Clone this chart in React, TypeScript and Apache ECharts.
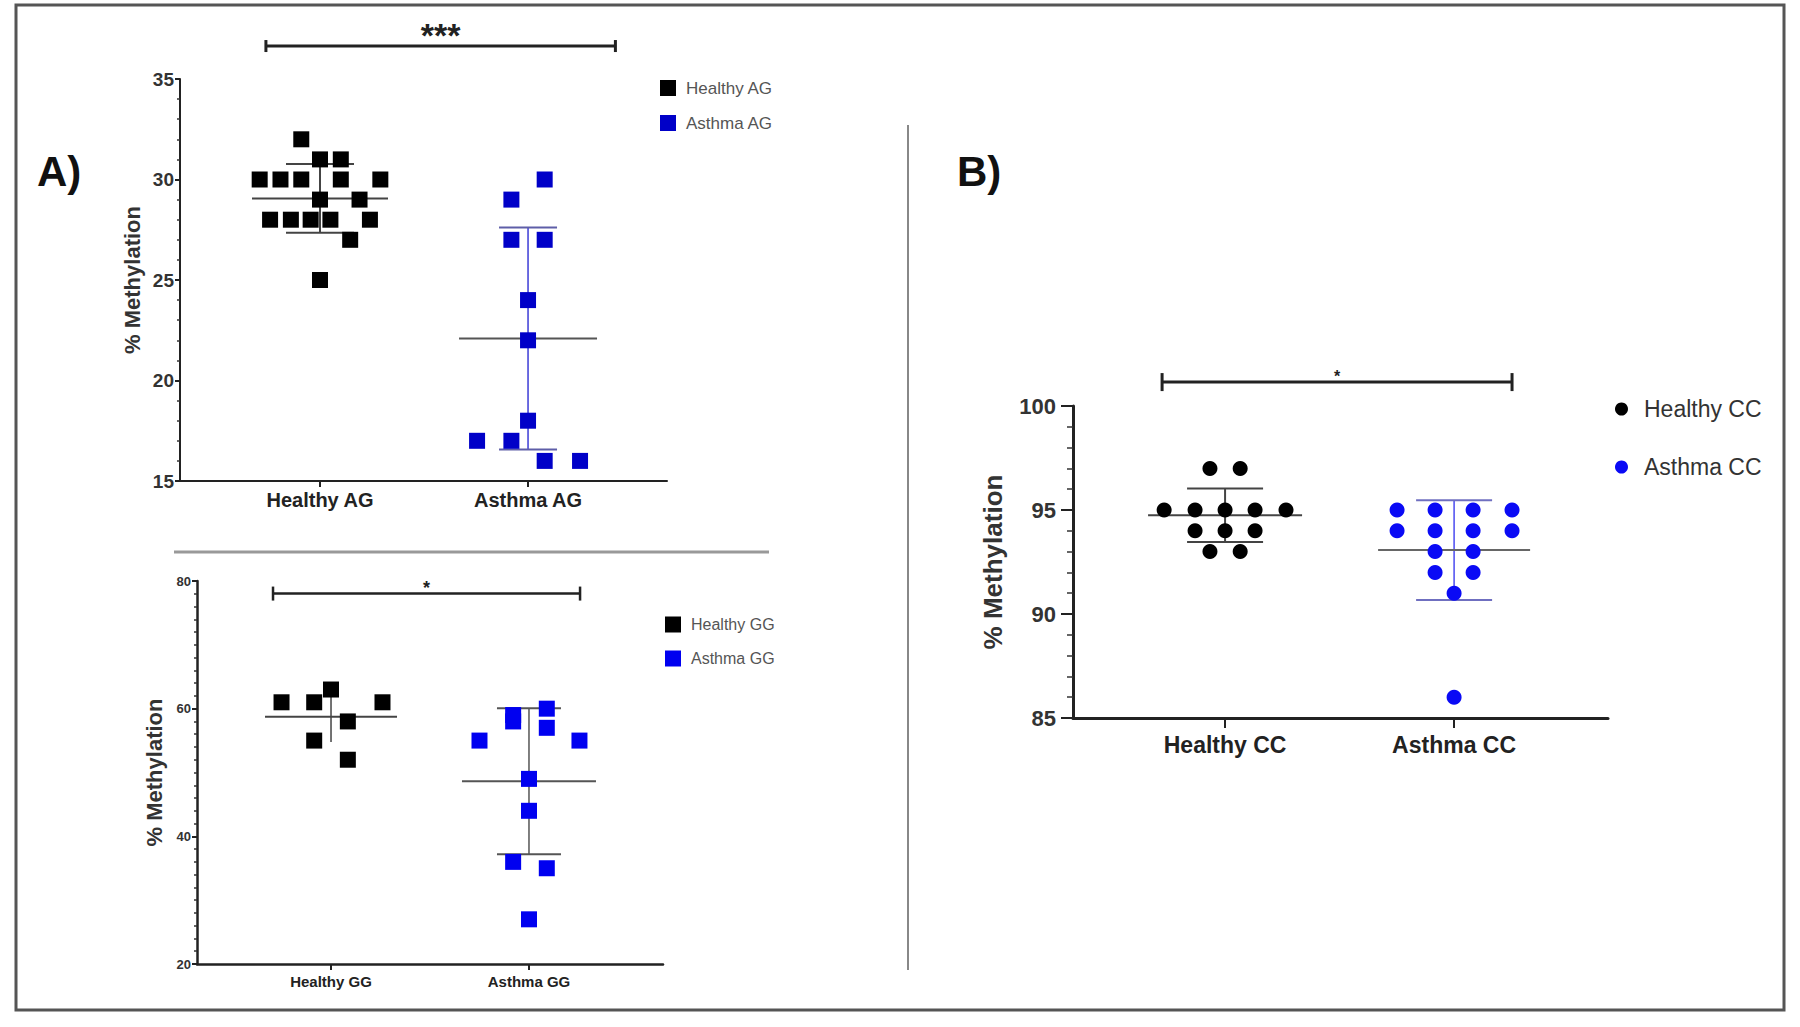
import React, { useEffect, useRef } from 'react';
import * as echarts from 'echarts';

const FONT = '"Liberation Sans", Arial, Helvetica, sans-serif';

// ---------- Panel A (top): AG genotype ----------
const agCategories = ['Healthy AG', 'Asthma AG'];
const agHealthy = [32, 31, 31, 30, 30, 30, 30, 30, 29, 29, 28, 28, 28, 28, 28, 27, 25];
const agHealthyJitter = [-0.09, 0, 0.1, -0.29, -0.19, -0.09, 0.1, 0.29, 0, 0.19, -0.24, -0.14, -0.045, 0.05, 0.24, 0.145, 0];
const agAsthma = [30, 29, 27, 27, 24, 22, 18, 17, 17, 16, 16];
const agAsthmaJitter = [0.08, -0.08, -0.08, 0.08, 0, 0, 0, -0.245, -0.08, 0.08, 0.25];
const agYTicks = [15, 20, 25, 30, 35];

// ---------- Panel A (bottom): GG genotype ----------
const ggCategories = ['Healthy GG', 'Asthma GG'];
const ggHealthy = [63, 61, 61, 61, 58, 55, 52];
const ggHealthyJitter = [0, -0.25, -0.085, 0.26, 0.085, -0.085, 0.085];
const ggAsthma = [60, 59, 58, 57, 55, 55, 49, 44, 36, 35, 27];
const ggAsthmaJitter = [0.09, -0.08, -0.08, 0.09, -0.25, 0.255, 0, 0, -0.08, 0.09, 0];
const ggYTicks = [20, 40, 60, 80];

// ---------- Panel B: CC genotype ----------
const ccCategories = ['Healthy CC', 'Asthma CC'];
const ccHealthy = [97, 97, 95, 95, 95, 95, 95, 94, 94, 94, 93, 93];
const ccHealthyJitter = [-0.066, 0.066, -0.266, -0.131, 0, 0.131, 0.266, -0.131, 0, 0.131, -0.066, 0.066];
const ccAsthma = [95, 95, 95, 95, 94, 94, 94, 94, 93, 93, 92, 92, 91, 86];
const ccAsthmaJitter = [-0.249, -0.083, 0.083, 0.253, -0.249, -0.083, 0.083, 0.253, -0.083, 0.083, -0.083, 0.083, 0, 0];
const ccYTicks = [85, 90, 95, 100];

// significance labels
const agSig = '***';
const ggSig = '*';
const ccSig = '*';

const mean = (a: number[]) => a.reduce((s, v) => s + v, 0) / a.length;
const sd = (a: number[]) => {
  const m = mean(a);
  return Math.sqrt(a.reduce((s, v) => s + (v - m) * (v - m), 0) / (a.length - 1));
};

const scatterData = (vals: number[], jit: number[], pos: number) =>
  vals.map((v, i) => [pos + jit[i], v]);

type BarStyle = {
  meanHalf: number;
  capHalf: number;
  meanColor: string;
  vColor: string;
  capColor: string;
  lw: number;
};

function errorSeries(idx: number, pos: number, vals: number[], st: BarStyle) {
  return {
    type: 'custom',
    xAxisIndex: idx,
    yAxisIndex: idx,
    z: 1,
    silent: true,
    data: [[pos, mean(vals), sd(vals)]],
    renderItem: (_p: any, api: any) => {
      const cx = api.value(0);
      const mu = api.value(1);
      const s = api.value(2);
      const pm = api.coord([cx, mu]);
      const pt = api.coord([cx, mu + s]);
      const pb = api.coord([cx, mu - s]);
      const children: any[] = [
        { type: 'line', shape: { x1: pt[0], y1: pt[1], x2: pb[0], y2: pb[1] }, style: { stroke: st.vColor, lineWidth: st.lw } },
        { type: 'line', shape: { x1: pm[0] - st.meanHalf, y1: pm[1], x2: pm[0] + st.meanHalf, y2: pm[1] }, style: { stroke: st.meanColor, lineWidth: 2 } },
      ];
      if (st.capHalf > 0) {
        children.push(
          { type: 'line', shape: { x1: pt[0] - st.capHalf, y1: pt[1], x2: pt[0] + st.capHalf, y2: pt[1] }, style: { stroke: st.capColor, lineWidth: 2 } },
          { type: 'line', shape: { x1: pb[0] - st.capHalf, y1: pb[1], x2: pb[0] + st.capHalf, y2: pb[1] }, style: { stroke: st.capColor, lineWidth: 2 } }
        );
      }
      return { type: 'group', children };
    },
  };
}

type Bracket = { x1: number; x2: number; y: number; cap: number; lw: number; starOffset: number; starSize: number };

function bracketSeries(idx: number, label: string, b: Bracket) {
  return {
    type: 'custom',
    xAxisIndex: idx,
    yAxisIndex: idx,
    silent: true,
    clip: false,
    z: 3,
    data: [[b.x1, b.x2, b.y]],
    renderItem: (_p: any, api: any) => {
      const a = api.coord([api.value(0), api.value(2)]);
      const c = api.coord([api.value(1), api.value(2)]);
      const y = a[1];
      return {
        type: 'group',
        children: [
          { type: 'line', shape: { x1: a[0], y1: y, x2: c[0], y2: y }, style: { stroke: '#222', lineWidth: b.lw } },
          { type: 'line', shape: { x1: a[0], y1: y - b.cap, x2: a[0], y2: y + b.cap }, style: { stroke: '#222', lineWidth: b.lw } },
          { type: 'line', shape: { x1: c[0], y1: y - b.cap, x2: c[0], y2: y + b.cap }, style: { stroke: '#222', lineWidth: b.lw } },
          {
            type: 'text',
            x: (a[0] + c[0]) / 2,
            y: y + b.starOffset,
            style: { text: label, fontSize: b.starSize, fontWeight: 'bold', fontFamily: FONT, fill: '#222', align: 'center', verticalAlign: 'middle' },
          },
        ],
      };
    },
  };
}

function makeXAxis(idx: number, cats: string[], min: number, max: number, o: { lw: number; tick: number; font: number; margin: number }) {
  return {
    type: 'value',
    gridIndex: idx,
    min,
    max,
    axisLine: { show: true, onZero: false, lineStyle: { color: '#222', width: o.lw } },
    axisTick: { show: true, customValues: [1, 2], length: o.tick, lineStyle: { color: '#222', width: 2 } },
    axisLabel: {
      customValues: [1, 2],
      formatter: (v: number) => cats[Math.round(v) - 1] ?? '',
      fontFamily: FONT,
      fontWeight: 'bold',
      fontSize: o.font,
      color: '#222',
      margin: o.margin,
    },
    splitLine: { show: false },
  };
}

function makeYAxis(
  idx: number,
  ticks: number[],
  o: { lw: number; tick: number; minor: number; minorLen: number; font: number; margin: number; nameSize: number; nameGap: number }
) {
  return {
    type: 'value',
    gridIndex: idx,
    min: ticks[0],
    max: ticks[ticks.length - 1],
    interval: ticks[1] - ticks[0],
    name: '% Methylation',
    nameLocation: 'middle',
    nameRotate: 90,
    nameGap: o.nameGap,
    nameTextStyle: { fontFamily: FONT, fontWeight: 'bold', fontSize: o.nameSize, color: '#333' },
    axisLine: { show: true, lineStyle: { color: '#222', width: o.lw } },
    axisTick: { show: true, length: o.tick, lineStyle: { color: '#222', width: 2 } },
    minorTick: { show: true, splitNumber: o.minor, length: o.minorLen, lineStyle: { color: '#333', width: 1.5 } },
    axisLabel: { fontFamily: FONT, fontWeight: 'bold', fontSize: o.font, color: '#333', margin: o.margin },
    splitLine: { show: false },
    minorSplitLine: { show: false },
  };
}

const blueAG = '#0000c8';
const blueGG = '#0000f0';
const blueCC = '#0a0af5';

export default function App() {
  const ref = useRef<HTMLDivElement>(null);

  useEffect(() => {
    if (!ref.current) return;
    const chart = echarts.init(ref.current, undefined, { renderer: 'svg' });

    const option: any = {
      animation: false,
      backgroundColor: '#ffffff',
      grid: [
        { left: 180, top: 79, width: 487, height: 402 },
        { left: 197, top: 581, width: 466, height: 383 },
        { left: 1073, top: 406, width: 535, height: 312 },
      ],
      xAxis: [
        makeXAxis(0, agCategories, 0.327, 2.668, { lw: 2, tick: 6, font: 20, margin: 9 }),
        makeXAxis(1, ggCategories, 0.323, 2.677, { lw: 2.5, tick: 6, font: 15, margin: 10 }),
        makeXAxis(2, ccCategories, 0.336, 2.672, { lw: 3, tick: 10, font: 23, margin: 15 }),
      ],
      yAxis: [
        makeYAxis(0, agYTicks, { lw: 2, tick: 5, minor: 5, minorLen: 3, font: 19, margin: 6, nameSize: 22, nameGap: 37 }),
        makeYAxis(1, ggYTicks, { lw: 2.5, tick: 5, minor: 10, minorLen: 3, font: 13, margin: 6, nameSize: 22, nameGap: 32 }),
        makeYAxis(2, ccYTicks, { lw: 3, tick: 12, minor: 5, minorLen: 6, font: 22, margin: 17, nameSize: 26, nameGap: 67 }),
      ],
      legend: [
        {
          data: ['Healthy AG', 'Asthma AG'],
          orient: 'vertical',
          left: 660,
          top: 79,
          padding: 0,
          icon: 'rect',
          itemWidth: 16,
          itemHeight: 16,
          itemGap: 17,
          selectedMode: false,
          textStyle: { fontFamily: FONT, fontSize: 17, lineHeight: 18, color: '#555', padding: [0, 0, 0, 5] },
        },
        {
          data: ['Healthy GG', 'Asthma GG'],
          orient: 'vertical',
          left: 665,
          top: 616,
          padding: 0,
          icon: 'rect',
          itemWidth: 16,
          itemHeight: 16,
          itemGap: 17,
          selectedMode: false,
          textStyle: { fontFamily: FONT, fontSize: 16, lineHeight: 17, color: '#555', padding: [0, 0, 0, 5] },
        },
        {
          data: ['Healthy CC', 'Asthma CC'],
          orient: 'vertical',
          left: 1615,
          top: 397,
          padding: 0,
          icon: 'circle',
          itemWidth: 13,
          itemHeight: 13,
          itemGap: 34,
          selectedMode: false,
          textStyle: { fontFamily: FONT, fontSize: 23, lineHeight: 24, color: '#333', padding: [0, 0, 0, 11] },
        },
      ],
      series: [
        errorSeries(0, 1, agHealthy, { meanHalf: 68, capHalf: 34, meanColor: '#444', vColor: '#444', capColor: '#444', lw: 2 }),
        errorSeries(0, 2, agAsthma, { meanHalf: 69, capHalf: 29, meanColor: '#555', vColor: '#3b3bd6', capColor: '#5e5ea8', lw: 1.5 }),
        errorSeries(1, 1, ggHealthy, { meanHalf: 66, capHalf: 0, meanColor: '#444', vColor: '#444', capColor: '#444', lw: 1.5 }),
        errorSeries(1, 2, ggAsthma, { meanHalf: 67, capHalf: 32, meanColor: '#555', vColor: '#555', capColor: '#555', lw: 1.5 }),
        errorSeries(2, 1, ccHealthy, { meanHalf: 77, capHalf: 38, meanColor: '#444', vColor: '#444', capColor: '#444', lw: 2 }),
        errorSeries(2, 2, ccAsthma, { meanHalf: 76, capHalf: 38, meanColor: '#666', vColor: '#4a4af0', capColor: '#6f6fc0', lw: 1.5 }),
        {
          name: 'Healthy AG', type: 'scatter', xAxisIndex: 0, yAxisIndex: 0, symbol: 'rect', symbolSize: 16, z: 2,
          itemStyle: { color: '#000', opacity: 1 }, data: scatterData(agHealthy, agHealthyJitter, 1),
        },
        {
          name: 'Asthma AG', type: 'scatter', xAxisIndex: 0, yAxisIndex: 0, symbol: 'rect', symbolSize: 16, z: 2,
          itemStyle: { color: blueAG, opacity: 1 }, data: scatterData(agAsthma, agAsthmaJitter, 2),
        },
        {
          name: 'Healthy GG', type: 'scatter', xAxisIndex: 1, yAxisIndex: 1, symbol: 'rect', symbolSize: 16, z: 2,
          itemStyle: { color: '#000', opacity: 1 }, data: scatterData(ggHealthy, ggHealthyJitter, 1),
        },
        {
          name: 'Asthma GG', type: 'scatter', xAxisIndex: 1, yAxisIndex: 1, symbol: 'rect', symbolSize: 16, z: 2,
          itemStyle: { color: blueGG, opacity: 1 }, data: scatterData(ggAsthma, ggAsthmaJitter, 2),
        },
        {
          name: 'Healthy CC', type: 'scatter', xAxisIndex: 2, yAxisIndex: 2, symbol: 'circle', symbolSize: 15, z: 2,
          itemStyle: { color: '#000', opacity: 1 }, data: scatterData(ccHealthy, ccHealthyJitter, 1),
        },
        {
          name: 'Asthma CC', type: 'scatter', xAxisIndex: 2, yAxisIndex: 2, symbol: 'circle', symbolSize: 15, z: 2,
          itemStyle: { color: blueCC, opacity: 1 }, data: scatterData(ccAsthma, ccAsthmaJitter, 2),
        },
        bracketSeries(0, agSig, { x1: 0.74, x2: 2.42, y: 36.64, cap: 6, lw: 3, starOffset: -11, starSize: 34 }),
        bracketSeries(1, ggSig, { x1: 0.707, x2: 2.258, y: 78.03, cap: 7, lw: 2.5, starOffset: -6, starSize: 18 }),
        bracketSeries(2, ccSig, { x1: 0.725, x2: 2.253, y: 101.15, cap: 9, lw: 3, starOffset: -6, starSize: 16 }),
      ],
      graphic: [
        { type: 'rect', shape: { x: 16, y: 5, width: 1768, height: 1005 }, style: { fill: 'none', stroke: '#555', lineWidth: 3 }, silent: true },
        { type: 'line', shape: { x1: 174, y1: 552, x2: 769, y2: 552 }, style: { stroke: '#999', lineWidth: 3 }, silent: true },
        { type: 'line', shape: { x1: 908, y1: 125, x2: 908, y2: 970 }, style: { stroke: '#888', lineWidth: 2 }, silent: true },
        {
          type: 'text', x: 37, y: 171,
          style: { text: 'A)', fontFamily: FONT, fontWeight: 'bold', fontSize: 42, fill: '#111', verticalAlign: 'middle', align: 'left' },
        },
        {
          type: 'text', x: 957, y: 171,
          style: { text: 'B)', fontFamily: FONT, fontWeight: 'bold', fontSize: 42, fill: '#111', verticalAlign: 'middle', align: 'left' },
        },
      ],
    };

    chart.setOption(option);
    return () => chart.dispose();
  }, []);

  return (
    <div
      ref={ref}
      style={{ position: 'absolute', left: 0, top: 0, width: 1800, height: 1027, background: '#fff' }}
    />
  );
}
